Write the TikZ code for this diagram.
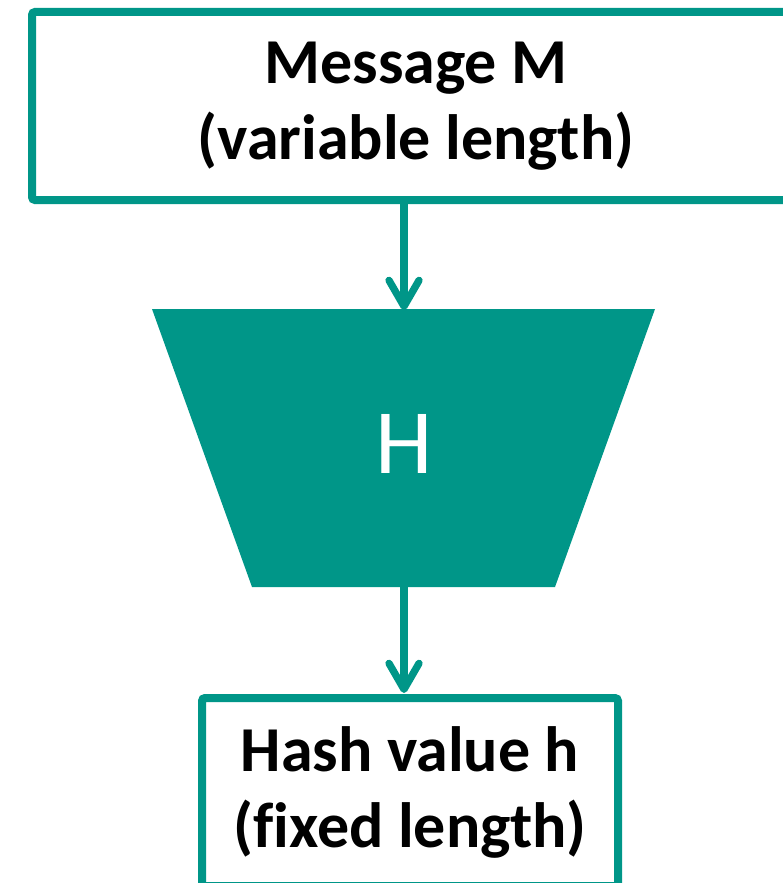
\documentclass[tikz,border=0pt]{standalone}
\usepackage{fontspec}
\setmainfont{Carlito}[Ligatures=CommonOff]
\usetikzlibrary{arrows.meta}
\definecolor{tealc}{RGB}{0,150,136}
\begin{document}
\begin{tikzpicture}[x=1pt,y=-1pt,
  boxnode/.style={draw=tealc, line width=8pt, rounded corners=3pt, fill=white,
    minimum height=188pt, inner sep=0pt, align=center,
    font=\fontsize{64}{76}\selectfont\bfseries},
  arr/.style={draw=tealc, line width=7.3pt, line cap=round, line join=round,
    -{Straight Barb[length=26pt,width=30pt,line cap=round,line join=round]}},
  hlabel/.style={text=white, inner sep=0pt, font=\fontsize{92}{92}\selectfont}]
\useasboundingbox (0,0) rectangle (783,883);
\begin{scope}
\clip (0,0) rectangle (783,883);
\node[boxnode, minimum width=768pt] (msg) at (416,106) {Message M\\(variable length)};
\fill[tealc] (152,309) -- (655,309) -- (555,587) -- (252,587) -- cycle;
\coordinate (Htop) at (404,310);
\coordinate (Hbot) at (404,587);
\node[hlabel] (H) at (404,444) {H};
\node[boxnode, minimum width=416pt] (hash) at (410,792) {Hash value h\\(fixed length)};
\draw[arr] (msg.south -| Htop) -- (Htop);
\draw[arr, shorten >=1pt] (Hbot) -- (hash.north -| Hbot);
\end{scope}
\end{tikzpicture}
\end{document}
